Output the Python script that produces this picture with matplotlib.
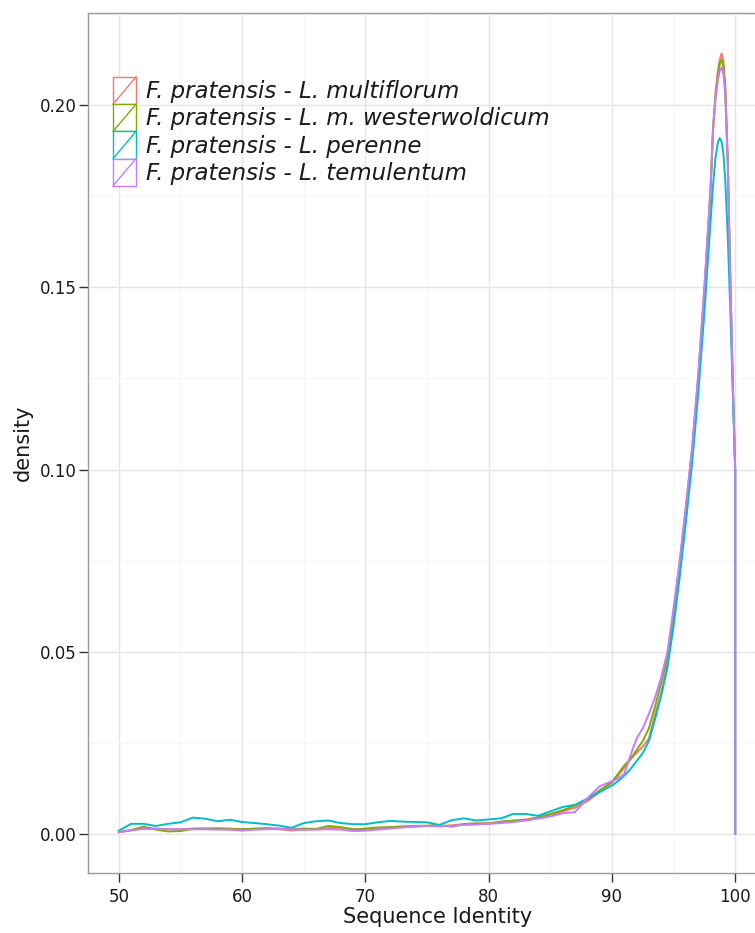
import matplotlib
matplotlib.use("Agg")
import matplotlib.pyplot as plt
from matplotlib.legend_handler import HandlerBase
from matplotlib.patches import Rectangle
from matplotlib.lines import Line2D
from matplotlib.ticker import MultipleLocator

# ---------------- data ----------------
x_grid = [50, 51, 52, 53, 54, 55, 56, 57, 58, 59,
          60, 61, 62, 63, 64, 65, 66, 67, 68, 69,
          70, 71, 72, 73, 74, 75, 76, 77, 78, 79,
          80, 81, 82, 83, 84, 85, 86, 87, 88, 89,
          90, 90.5, 91, 91.5, 92, 92.5, 93, 93.5, 94, 94.5,
          95, 95.5, 96, 96.5, 97, 97.5,
          98, 98.2, 98.4, 98.6, 98.75, 98.9, 99.05, 99.2, 99.4, 99.6, 99.8, 100,
          100]

labels = ["F. pratensis - L. multiflorum",
          "F. pratensis - L. m. westerwoldicum",
          "F. pratensis - L. perenne",
          "F. pratensis - L. temulentum"]

multiflorum = [0.0005, 0.0010, 0.0017, 0.0015, 0.0013, 0.0013, 0.0015, 0.0015, 0.0016, 0.0015,
               0.0013, 0.0014, 0.0015, 0.0013, 0.0010, 0.0012, 0.0013, 0.0016, 0.0017, 0.0014,
               0.0012, 0.0015, 0.0018, 0.0019, 0.0021, 0.0022, 0.0021, 0.0024, 0.0027, 0.0029,
               0.0030, 0.0033, 0.0036, 0.0040, 0.0045, 0.0052, 0.0062, 0.0072, 0.0090, 0.0115,
               0.0141, 0.0160, 0.0182, 0.0205, 0.0222, 0.0240, 0.0262, 0.0328, 0.0388, 0.0465,
               0.0600, 0.0730, 0.0880, 0.1040, 0.1240, 0.1480,
               0.1760, 0.1930, 0.2030, 0.2095, 0.2125, 0.2142, 0.2120, 0.2050, 0.1850, 0.1540, 0.1250, 0.1000,
               0.0]

westerwoldicum = [0.0005, 0.0011, 0.0020, 0.0012, 0.0007, 0.0008, 0.0014, 0.0015, 0.0014, 0.0013,
                  0.0013, 0.0015, 0.0016, 0.0015, 0.0014, 0.0015, 0.0014, 0.0022, 0.0019, 0.0012,
                  0.0015, 0.0018, 0.0019, 0.0021, 0.0022, 0.0023, 0.0025, 0.0020, 0.0027, 0.0029,
                  0.0028, 0.0034, 0.0037, 0.0038, 0.0046, 0.0055, 0.0065, 0.0078, 0.0095, 0.0120,
                  0.0143, 0.0165, 0.0188, 0.0206, 0.0230, 0.0255, 0.0290, 0.0350, 0.0415, 0.0485,
                  0.0610, 0.0745, 0.0895, 0.1055, 0.1255, 0.1495,
                  0.1770, 0.1935, 0.2025, 0.2085, 0.2112, 0.2125, 0.2105, 0.2040, 0.1840, 0.1530, 0.1245, 0.1000,
                  0.0]

perenne = [0.0009, 0.0028, 0.0028, 0.0022, 0.0028, 0.0032, 0.0045, 0.0042, 0.0035, 0.0039,
           0.0033, 0.0030, 0.0027, 0.0023, 0.0017, 0.0030, 0.0035, 0.0037, 0.0030, 0.0027,
           0.0027, 0.0032, 0.0036, 0.0034, 0.0033, 0.0032, 0.0025, 0.0038, 0.0043, 0.0037,
           0.0040, 0.0043, 0.0055, 0.0055, 0.0050, 0.0062, 0.0074, 0.0080, 0.0097, 0.0115,
           0.0133, 0.0145, 0.0160, 0.0178, 0.0200, 0.0222, 0.0255, 0.0315, 0.0380, 0.0455,
           0.0570, 0.0705, 0.0855, 0.1015, 0.1205, 0.1430,
           0.1680, 0.1780, 0.1855, 0.1898, 0.1910, 0.1900, 0.1865, 0.1790, 0.1640, 0.1440, 0.1220, 0.1000,
           0.0]

temulentum = [0.0005, 0.0010, 0.0014, 0.0014, 0.0013, 0.0013, 0.0013, 0.0013, 0.0012, 0.0012,
              0.0009, 0.0012, 0.0013, 0.0014, 0.0013, 0.0012, 0.0012, 0.0013, 0.0012, 0.0008,
              0.0009, 0.0012, 0.0015, 0.0018, 0.0020, 0.0022, 0.0022, 0.0022, 0.0025, 0.0026,
              0.0028, 0.0030, 0.0033, 0.0037, 0.0042, 0.0048, 0.0057, 0.0060, 0.0098, 0.0131,
              0.0145, 0.0152, 0.0165, 0.0215, 0.0262, 0.0290, 0.0330, 0.0375, 0.0430, 0.0500,
              0.0620, 0.0750, 0.0900, 0.1060, 0.1260, 0.1500,
              0.1775, 0.1930, 0.2015, 0.2070, 0.2095, 0.2104, 0.2085, 0.2025, 0.1830, 0.1525, 0.1245, 0.1000,
              0.0]

series = [multiflorum, westerwoldicum, perenne, temulentum]
colors = ["#F8766D", "#7CAE00", "#00BFC4", "#C77CFF"]

x_ticks = [50, 60, 70, 80, 90, 100]
y_ticks = [0.00, 0.05, 0.10, 0.15, 0.20]
y_tick_labels = ["0.00", "0.05", "0.10", "0.15", "0.20"]

# ---------------- figure ----------------
plt.rcParams['font.family'] = ['DejaVu Sans']
W, H = 755, 933
fig = plt.figure(figsize=(W / 100, H / 100), dpi=100)
ax_left, ax_right, ax_top, ax_bottom = 88, 766, 13, 873
ax_w, ax_h = ax_right - ax_left, ax_bottom - ax_top
ax = fig.add_axes([ax_left / W, (H - ax_bottom) / H, ax_w / W, ax_h / H])

lines = []
for ys, c, lab in zip(series, colors, labels):
    ln, = ax.plot(x_grid, ys, color=c, lw=1.4, label=lab, solid_joinstyle='round')
    lines.append(ln)

ax.set_xlim(47.5, 102.5)
ax.set_ylim(-0.0107, 0.2253)
ax.set_xticks(x_ticks)
ax.set_yticks(y_ticks)
ax.set_yticklabels(y_tick_labels)
ax.xaxis.set_minor_locator(MultipleLocator(5))
ax.yaxis.set_minor_locator(MultipleLocator(0.025))

ax.grid(which='major', color='#E5E5E5', lw=1.0)
ax.grid(which='minor', color='#F7F7F7', lw=0.8)
ax.set_axisbelow(True)
for sp in ax.spines.values():
    sp.set_color('#9A9A9A')
    sp.set_linewidth(1.0)

ax.tick_params(which='major', length=6.5, width=1.0, color='#333333',
               labelsize=12, labelcolor='#1A1A1A')
ax.tick_params(axis='x', pad=4)
ax.tick_params(axis='y', pad=1.5)
ax.tick_params(which='minor', length=0)

ax.set_xlabel("Sequence Identity", fontsize=15, color='#1A1A1A')
ax.set_ylabel("density", fontsize=15, color='#1A1A1A')
ax.xaxis.set_label_coords((438 - ax_left) / ax_w, -(907 - ax_bottom) / ax_h)
ax.yaxis.set_label_coords(-(ax_left - 33) / ax_w, 0.5)


class BoxDiagHandler(HandlerBase):
    def create_artists(self, legend, orig_handle, xdescent, ydescent,
                       width, height, fontsize, trans):
        c = orig_handle.get_color()
        x0, y0 = -xdescent, -ydescent
        r = Rectangle((x0, y0), width, height, facecolor='white',
                      edgecolor=c, lw=1.0, transform=trans)
        d = Line2D([x0, x0 + width], [y0, y0 + height], color=c, lw=1.0,
                   transform=trans)
        return [r, d]


fs = 16.5
fpx = fs * 100 / 72
leg = ax.legend(handles=lines, labels=labels,
                handler_map={Line2D: BoxDiagHandler()},
                loc='upper left',
                bbox_to_anchor=((113 - ax_left) / ax_w, 1 - (77 - ax_top) / ax_h),
                frameon=False, borderpad=0, borderaxespad=0,
                handlelength=23 / fpx, handleheight=1.45,
                labelspacing=0.0, handletextpad=10 / fpx,
                prop={'size': fs, 'style': 'italic'})
for t in leg.get_texts():
    t.set_color('#1A1A1A')

fig.savefig("out.png", dpi=100)
